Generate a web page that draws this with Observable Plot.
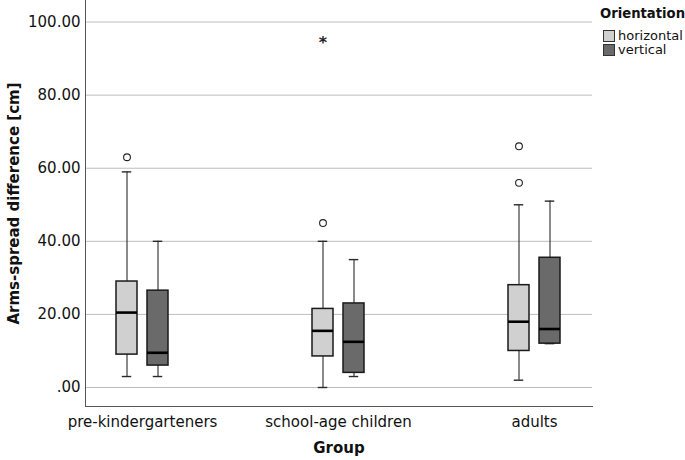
<!DOCTYPE html>
<html>
<head>
<meta charset="utf-8">
<script src="https://cdn.jsdelivr.net/npm/d3@7"></script>
<script src="https://cdn.jsdelivr.net/npm/@observablehq/plot@0.6"></script>
<style>
  body { margin: 0; background: #fff; font-family: "DejaVu Sans", sans-serif; }
  #wrap { position: relative; width: 685px; height: 460px; overflow: hidden; }
  #legend { position: absolute; left: 600px; top: 6px; color: #111; white-space: nowrap; }
  #legend .title { font-weight: bold; font-size: 13.2px; line-height: 16px; height: 16px; margin-bottom: 7px; }
  #legend .item { display: flex; align-items: center; font-size: 13px; line-height: 14px; height: 14px; margin-left: 3px; }
  #legend .sw { width: 10px; height: 10px; border: 1px solid #333; margin-right: 3px; flex: none; }
</style>
</head>
<body>
<div id="wrap"><div id="chart"></div><div id="legend"></div></div>
<script>
// ---- data ----
const groups = ["pre-kindergarteners", "school-age children", "adults"];
const orientations = ["horizontal", "vertical"];
const orientationColors = ["#d0d0d0", "#6a6a6a"];
const yTicks = [0, 20, 40, 60, 80, 100];

const boxGroup       = ["pre-kindergarteners", "pre-kindergarteners", "school-age children", "school-age children", "adults", "adults"];
const boxOrientation = ["horizontal", "vertical", "horizontal", "vertical", "horizontal", "vertical"];
const whiskerLow     = [3, 3, 0, 3, 2, 12];
const q1             = [9, 6, 8.5, 4, 10, 12];
const median         = [20.5, 9.5, 15.5, 12.5, 18, 16];
const q3             = [29, 26.5, 21.5, 23, 28, 35.5];
const whiskerHigh    = [59, 40, 40, 35, 50, 51];

const outlierGroup       = ["pre-kindergarteners", "school-age children", "adults", "adults"];
const outlierOrientation = ["horizontal", "horizontal", "horizontal", "horizontal"];
const outlierValue       = [63, 45, 56, 66];

const extremeGroup       = ["school-age children"];
const extremeOrientation = ["horizontal"];
const extremeValue       = [95];

// ---- tables ----
const boxes = boxGroup.map((g, i) => ({
  group: g, orientation: boxOrientation[i],
  lo: whiskerLow[i], q1: q1[i], med: median[i], q3: q3[i], hi: whiskerHigh[i]
}));
const outliers = outlierGroup.map((g, i) => ({group: g, orientation: outlierOrientation[i], value: outlierValue[i]}));
const extremes = extremeGroup.map((g, i) => ({group: g, orientation: extremeOrientation[i], value: extremeValue[i]}));

// ---- layout/style ----
const W = 685, H = 460;
const yDomain = [-5.2, 105.9];
const off = 15.5;        // horizontal offset of each box from group centre
const bw = 52.5;         // band width
const half = bw / 2;
const boxW = 21.5;
const capW = 10;

function layer(o, idx) {
  const sign = idx === 0 ? -1 : 1;
  const c = half + sign * off;
  const boxInsL = c - boxW / 2, boxInsR = bw - (c + boxW / 2);
  const capInsL = c - capW / 2, capInsR = bw - (c + capW / 2);
  const B = boxes.filter(d => d.orientation === o);
  const O = outliers.filter(d => d.orientation === o);
  const E = extremes.filter(d => d.orientation === o);
  return [
    Plot.ruleX(B, {x: "group", y1: "lo", y2: "q1", dx: sign * off, stroke: "#2a2a2a", strokeWidth: 1.1}),
    Plot.ruleX(B, {x: "group", y1: "q3", y2: "hi", dx: sign * off, stroke: "#2a2a2a", strokeWidth: 1.1}),
    Plot.tickY(B, {x: "group", y: "lo", insetLeft: capInsL, insetRight: capInsR, stroke: "#2a2a2a", strokeWidth: 1.4}),
    Plot.tickY(B, {x: "group", y: "hi", insetLeft: capInsL, insetRight: capInsR, stroke: "#2a2a2a", strokeWidth: 1.4}),
    Plot.barY(B, {x: "group", y1: "q1", y2: "q3", insetLeft: boxInsL, insetRight: boxInsR,
      fill: orientationColors[idx], stroke: "#1a1a1a", strokeWidth: 1.5}),
    Plot.tickY(B, {x: "group", y: "med", insetLeft: boxInsL, insetRight: boxInsR, stroke: "#000", strokeWidth: 2.6}),
    Plot.dot(O, {x: "group", y: "value", dx: sign * off, r: 3.4, stroke: "#222", strokeWidth: 1.1, fill: "none"}),
    Plot.text(E, {x: "group", y: "value", dx: sign * off, dy: 3, text: () => "*", fontSize: 16, fontWeight: "bold", fill: "#222"})
  ];
}

const chart = Plot.plot({
  width: W,
  height: H,
  marginLeft: 85,
  marginRight: 93,
  marginTop: 0,
  marginBottom: 54,
  style: {fontFamily: "DejaVu Sans, sans-serif", fontSize: "15px", color: "#111", background: "#fff"},
  x: {type: "band", domain: groups, paddingInner: 1 - bw / 196.5, paddingOuter: 0.1565, label: null},
  y: {domain: yDomain, label: null},
  marks: [
    Plot.gridY(yTicks, {stroke: "#bdbdbd", strokeOpacity: 1, strokeWidth: 1}),
    Plot.axisY(yTicks, {tickSize: 0, tickPadding: 5, fontSize: 15, label: null,
      tickFormat: d => d === 0 ? ".00" : d.toFixed(2)}),
    Plot.axisY({ticks: [], label: "Arms-spread difference [cm]", labelAnchor: "center", labelArrow: "none",
      labelOffset: 77, fontWeight: "bold", fontSize: 15}),
    Plot.axisX({tickSize: 0, tickPadding: 10, fontSize: 15, label: null}),
    Plot.axisX({ticks: [], label: "Group", labelAnchor: "center", labelArrow: "none",
      labelOffset: 46, fontWeight: "bold", fontSize: 15}),
    ...layer("horizontal", 0),
    ...layer("vertical", 1),
    Plot.frame({anchor: "left", stroke: "#555", strokeWidth: 1}),
    Plot.frame({anchor: "bottom", stroke: "#555", strokeWidth: 1})
  ]
});
document.getElementById("chart").appendChild(chart);

// legend
const lg = document.getElementById("legend");
const t = document.createElement("div"); t.className = "title"; t.textContent = "Orientation"; lg.appendChild(t);
orientations.forEach((o, i) => {
  const it = document.createElement("div"); it.className = "item";
  const sw = document.createElement("div"); sw.className = "sw"; sw.style.background = orientationColors[i];
  const tx = document.createElement("span"); tx.textContent = o;
  it.appendChild(sw); it.appendChild(tx); lg.appendChild(it);
});
</script>
</body>
</html>
